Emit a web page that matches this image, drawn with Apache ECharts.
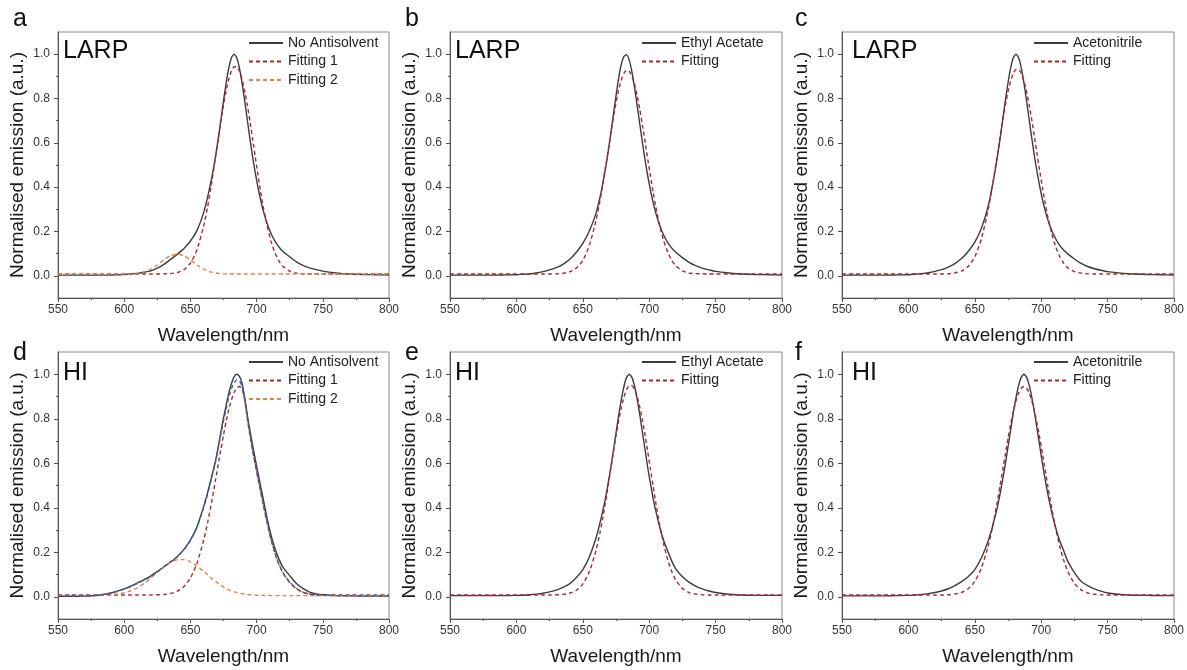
<!DOCTYPE html>
<html>
<head>
<meta charset="utf-8">
<title>Normalised emission</title>
<script src="https://cdn.jsdelivr.net/npm/echarts@6/dist/echarts.min.js"></script>
<style>
  html, body { margin: 0; background: #fff; }
  #chart { width: 1187px; height: 670px; }
</style>
</head>
<body>
<div id="chart"></div>
<script>
// wavelength grid (nm) shared by every curve
const wavelength = [550,560,570,580,590,600,605,610,615,620,625,630,635,640,645,650,655,660,663,
  665,667,669,671,673,675,677,679,681,683,685,687,689,691,693,695,697,699,701,703,705,
  708,711,714,717,720,725,730,735,740,745,750,760,770,780,790,800];

// a - LARP, no antisolvent
const larpNone = [0.003,0.003,0.003,0.003,0.004,0.006,0.008,0.011,0.016,0.022,0.035,0.052,0.074,0.097,0.122,0.157,0.205,0.285,
  0.355,0.410,0.470,0.540,0.617,0.703,0.789,0.870,0.938,0.984,1.000,0.984,0.938,0.870,0.789,0.703,0.617,0.537,0.465,0.400,0.343,0.294,
  0.235,0.190,0.155,0.129,0.109,0.086,0.063,0.047,0.036,0.028,0.021,0.013,0.008,0.006,0.005,0.004];
const larpNoneFit1 = [0.008,0.008,0.008,0.008,0.008,0.008,0.008,0.008,0.008,0.008,0.008,0.009,0.010,0.015,0.027,0.057,0.118,0.224,
  0.312,0.381,0.456,0.536,0.617,0.696,0.770,0.835,0.887,0.924,0.943,0.943,0.924,0.887,0.835,0.770,0.696,0.617,0.536,0.456,0.381,0.312,
  0.224,0.154,0.102,0.066,0.042,0.021,0.012,0.009,0.008,0.008,0.008,0.008,0.008,0.008,0.008,0.008];
const larpNoneFit2 = [0.008,0.008,0.008,0.008,0.008,0.008,0.009,0.012,0.018,0.030,0.049,0.072,0.091,0.098,0.091,0.072,0.049,0.030,
  0.022,0.018,0.015,0.013,0.011,0.010,0.009,0.008,0.008,0.008,0.008,0.008,0.008,0.008,0.008,0.008,0.008,0.008,0.008,0.008,0.008,0.008,
  0.008,0.008,0.008,0.008,0.008,0.008,0.008,0.008,0.008,0.008,0.008,0.008,0.008,0.008,0.008,0.008];

// b - LARP, ethyl acetate
const larpEthyl = [0.003,0.003,0.003,0.003,0.004,0.005,0.007,0.009,0.013,0.019,0.027,0.037,0.052,0.074,0.105,0.146,0.203,0.283,
  0.356,0.415,0.482,0.556,0.639,0.725,0.812,0.892,0.955,0.990,0.998,0.972,0.920,0.848,0.766,0.681,0.597,0.519,0.447,0.385,0.330,0.283,
  0.226,0.182,0.150,0.125,0.106,0.082,0.061,0.046,0.035,0.027,0.020,0.013,0.008,0.006,0.005,0.004];
const larpEthylFit = [0.008,0.008,0.008,0.008,0.008,0.008,0.008,0.008,0.008,0.008,0.008,0.009,0.011,0.018,0.034,0.069,0.138,0.251,
  0.342,0.411,0.485,0.562,0.639,0.713,0.781,0.839,0.884,0.914,0.927,0.923,0.901,0.864,0.811,0.748,0.677,0.601,0.523,0.448,0.376,0.310,
  0.224,0.156,0.106,0.069,0.045,0.022,0.013,0.010,0.009,0.008,0.008,0.008,0.008,0.008,0.008,0.008];

// c - LARP, acetonitrile
const larpAceto = [0.003,0.003,0.003,0.003,0.004,0.005,0.007,0.010,0.014,0.020,0.028,0.039,0.055,0.078,0.110,0.152,0.215,0.312,
  0.398,0.465,0.537,0.617,0.703,0.789,0.870,0.938,0.984,1.000,0.984,0.938,0.870,0.789,0.703,0.617,0.537,0.465,0.400,0.343,0.294,0.253,
  0.203,0.166,0.137,0.115,0.099,0.076,0.056,0.042,0.032,0.025,0.019,0.012,0.008,0.006,0.005,0.004];
const larpAcetoFit = [0.008,0.008,0.008,0.008,0.008,0.008,0.008,0.008,0.008,0.008,0.008,0.009,0.013,0.021,0.042,0.086,0.167,0.296,
  0.396,0.469,0.545,0.623,0.699,0.769,0.830,0.879,0.913,0.931,0.931,0.913,0.879,0.830,0.769,0.699,0.623,0.545,0.469,0.396,0.327,0.266,
  0.189,0.130,0.086,0.056,0.036,0.019,0.012,0.009,0.008,0.008,0.008,0.008,0.008,0.008,0.008,0.008];

// d - HI, no antisolvent
const hiNone = [0.002,0.002,0.003,0.007,0.017,0.035,0.048,0.062,0.077,0.093,0.113,0.134,0.155,0.180,0.212,0.255,0.315,0.405,
  0.468,0.515,0.562,0.612,0.672,0.740,0.803,0.860,0.915,0.958,0.988,1.000,0.990,0.960,0.895,0.815,0.745,0.680,0.618,0.558,0.498,0.440,
  0.350,0.275,0.215,0.168,0.132,0.095,0.060,0.038,0.021,0.013,0.009,0.005,0.004,0.003,0.003,0.003];
const hiNoneFit1 = [0.008,0.008,0.008,0.008,0.008,0.008,0.008,0.008,0.008,0.008,0.009,0.010,0.015,0.024,0.045,0.084,0.151,0.254,
  0.333,0.393,0.457,0.525,0.594,0.662,0.727,0.788,0.841,0.885,0.918,0.938,0.945,0.935,0.885,0.800,0.725,0.655,0.593,0.533,0.473,0.415,
  0.330,0.254,0.192,0.143,0.106,0.064,0.036,0.020,0.012,0.009,0.008,0.008,0.008,0.008,0.008,0.008];
const hiNoneFit2 = [0.005,0.005,0.005,0.006,0.008,0.018,0.027,0.041,0.060,0.083,0.109,0.134,0.154,0.166,0.167,0.157,0.139,0.114,
  0.099,0.088,0.078,0.069,0.060,0.052,0.044,0.038,0.032,0.027,0.023,0.019,0.016,0.014,0.012,0.010,0.009,0.008,0.007,0.007,0.006,0.006,
  0.005,0.005,0.005,0.005,0.005,0.005,0.005,0.005,0.005,0.005,0.005,0.005,0.005,0.005,0.005,0.005];
const hiNoneSum = [0.004,0.004,0.004,0.006,0.016,0.034,0.046,0.060,0.075,0.091,0.112,0.136,0.158,0.180,0.210,0.252,0.312,0.400,
  0.462,0.508,0.556,0.606,0.665,0.730,0.790,0.845,0.895,0.935,0.962,0.974,0.970,0.948,0.890,0.805,0.730,0.660,0.598,0.538,0.478,0.420,
  0.335,0.258,0.195,0.145,0.108,0.066,0.038,0.021,0.012,0.008,0.006,0.005,0.005,0.005,0.005,0.005];

// e - HI, ethyl acetate
const hiEthyl = [0.005,0.005,0.005,0.005,0.005,0.006,0.007,0.009,0.012,0.016,0.022,0.030,0.042,0.058,0.085,0.122,0.180,0.265,
  0.333,0.385,0.440,0.507,0.576,0.656,0.735,0.815,0.886,0.946,0.986,1.000,0.986,0.946,0.886,0.815,0.735,0.656,0.576,0.507,0.440,0.385,
  0.311,0.251,0.205,0.160,0.125,0.090,0.066,0.048,0.035,0.026,0.019,0.011,0.008,0.006,0.006,0.006];
const hiEthylFit = [0.008,0.008,0.008,0.008,0.008,0.008,0.008,0.008,0.008,0.008,0.008,0.009,0.010,0.016,0.028,0.057,0.113,0.209,
  0.290,0.352,0.421,0.495,0.572,0.648,0.723,0.791,0.850,0.898,0.931,0.948,0.948,0.931,0.898,0.850,0.791,0.723,0.648,0.572,0.495,0.421,
  0.320,0.234,0.165,0.113,0.075,0.037,0.019,0.012,0.009,0.008,0.008,0.008,0.008,0.008,0.008,0.008];

// f - HI, acetonitrile
const hiAceto = [0.004,0.004,0.004,0.004,0.005,0.006,0.008,0.010,0.014,0.019,0.026,0.036,0.050,0.068,0.090,0.122,0.175,0.250,
  0.308,0.354,0.403,0.461,0.526,0.597,0.673,0.750,0.827,0.894,0.950,0.987,1.000,0.987,0.950,0.894,0.827,0.750,0.673,0.597,0.526,0.461,
  0.378,0.308,0.251,0.206,0.160,0.108,0.070,0.050,0.035,0.025,0.017,0.010,0.007,0.006,0.005,0.005];
const hiAcetoFit = [0.008,0.008,0.008,0.008,0.008,0.008,0.008,0.008,0.008,0.008,0.008,0.009,0.012,0.019,0.036,0.069,0.129,0.226,
  0.304,0.364,0.429,0.498,0.570,0.641,0.711,0.775,0.832,0.880,0.916,0.937,0.945,0.937,0.916,0.880,0.832,0.775,0.711,0.641,0.570,0.498,
  0.396,0.304,0.226,0.163,0.114,0.060,0.031,0.017,0.011,0.009,0.008,0.008,0.008,0.008,0.008,0.008];

const yLabels = [0, 0.2, 0.4, 0.6, 0.8, 1.0];
const yMinor = [0.1, 0.3, 0.5, 0.7, 0.9];

const FONT = 'Arial, "Liberation Sans", sans-serif';
const styles = {
  data: { color: '#3c3c3c', type: 'solid', width: 1.4 },
  fit1: { color: '#a8282a', type: [4, 3], width: 1.4 },
  fit2: { color: '#e5814f', type: [4, 3], width: 1.4 },
  sum:  { color: '#3d5fa8', type: [4, 3], width: 1.4 }
};

const panels = [
  { letter: 'a', tag: 'LARP', curves: [['No Antisolvent', larpNone, 'data'], ['Fitting 1', larpNoneFit1, 'fit1'], ['Fitting 2', larpNoneFit2, 'fit2']] },
  { letter: 'b', tag: 'LARP', curves: [['Ethyl Acetate', larpEthyl, 'data'], ['Fitting', larpEthylFit, 'fit1']] },
  { letter: 'c', tag: 'LARP', curves: [['Acetonitrile', larpAceto, 'data'], ['Fitting', larpAcetoFit, 'fit1']] },
  { letter: 'd', tag: 'HI', curves: [['No Antisolvent', hiNone, 'data'], ['Fitting 1', hiNoneFit1, 'fit1'], ['Fitting 2', hiNoneFit2, 'fit2'], ['Sum', hiNoneSum, 'sum']] },
  { letter: 'e', tag: 'HI', curves: [['Ethyl Acetate', hiEthyl, 'data'], ['Fitting', hiEthylFit, 'fit1']] },
  { letter: 'f', tag: 'HI', curves: [['Acetonitrile', hiAceto, 'data'], ['Fitting', hiAcetoFit, 'fit1']] }
];

// layout in px
const colLeft = [58, 450, 842];
const colWidth = [331, 332, 333];
const rowTop = [32, 352];
const rowHeight = [266, 267];
const letterX = [13, 405, 795];
const letterY = [19, 353];
const tagX = [63, 455, 852];
const tagY = [51, 373];
const legendX = [248, 641, 1033];
const legendY = [36, 355];

const grid = [], xAxis = [], yAxis = [], series = [], legend = [], graphic = [];

panels.forEach(function (p, i) {
  const col = i % 3, row = Math.floor(i / 3);
  grid.push({
    left: colLeft[col], top: rowTop[row], width: colWidth[col], height: rowHeight[row],
    show: true, borderColor: '#8a8a8a', borderWidth: 1, backgroundColor: 'transparent'
  });
  xAxis.push({
    type: 'value', gridIndex: i, min: 550, max: 800, interval: 50,
    name: 'Wavelength/nm', nameLocation: 'middle', nameGap: 28,
    nameTextStyle: { fontSize: 19, color: '#1a1a1a', fontFamily: FONT },
    axisLine: { show: true, onZero: false, lineStyle: { color: '#555', width: 1 } },
    axisTick: { show: true, inside: false, length: 4, lineStyle: { color: '#555' } },
    minorTick: { show: true, splitNumber: 2, length: 2, lineStyle: { color: '#555' } },
    axisLabel: { fontSize: 12, color: '#333', margin: 6, fontFamily: FONT },
    splitLine: { show: false }
  });
  yAxis.push({
    type: 'value', gridIndex: i, position: 'left', min: -0.1, max: 1.1,
    name: 'Normalised emission (a.u.)', nameLocation: 'middle', nameGap: 31,
    nameTextStyle: { fontSize: 19, color: '#1a1a1a', fontFamily: FONT },
    axisLine: { show: true, onZero: false, lineStyle: { color: '#555', width: 1 } },
    axisTick: { show: true, inside: false, length: 4, customValues: yLabels, lineStyle: { color: '#555' } },
    axisLabel: { customValues: yLabels, formatter: function (v) { return v.toFixed(1); }, fontSize: 12, color: '#333', margin: 8, fontFamily: FONT },
    splitLine: { show: false }
  });
  // second axis only for the short in-between ticks
  yAxis.push({
    type: 'value', gridIndex: i, position: 'left', min: -0.1, max: 1.1,
    axisLine: { show: false },
    axisTick: { show: true, inside: false, length: 2, customValues: yMinor, lineStyle: { color: '#555' } },
    axisLabel: { show: false },
    splitLine: { show: false }
  });

  const names = [];
  p.curves.forEach(function (c) {
    const st = styles[c[2]];
    if (c[2] !== 'sum') names.push(c[0]);
    series.push({
      type: 'line', name: c[0], xAxisIndex: i, yAxisIndex: 2 * i,
      data: wavelength.map(function (w, k) { return [w, c[1][k]]; }),
      symbol: 'none', showSymbol: false, smooth: 0.2, silent: true,
      lineStyle: { color: st.color, type: st.type, width: st.width },
      itemStyle: { color: st.color }
    });
  });

  legend.push({
    orient: 'vertical', left: legendX[col], top: legendY[row], padding: 0,
    itemWidth: 34, itemHeight: 12, itemGap: 4.5, selectedMode: false,
    itemStyle: { opacity: 0, borderWidth: 0 },
    textStyle: { fontSize: 14, color: '#222', lineHeight: 14, fontFamily: FONT },
    data: names
  });

  graphic.push({
    type: 'text', x: letterX[col], y: letterY[row],
    style: { text: p.letter, font: '25px ' + FONT, fill: '#111', textVerticalAlign: 'middle', verticalAlign: 'middle' }
  });
  graphic.push({
    type: 'text', x: tagX[col], y: tagY[row],
    style: { text: p.tag, font: '25px ' + FONT, fill: '#111', textVerticalAlign: 'middle', verticalAlign: 'middle' }
  });
});

const chart = echarts.init(document.getElementById('chart'));
chart.setOption({
  animation: false,
  backgroundColor: '#fff',
  textStyle: { fontFamily: FONT },
  grid: grid,
  xAxis: xAxis,
  yAxis: yAxis,
  legend: legend,
  graphic: graphic,
  series: series
});
</script>
</body>
</html>
